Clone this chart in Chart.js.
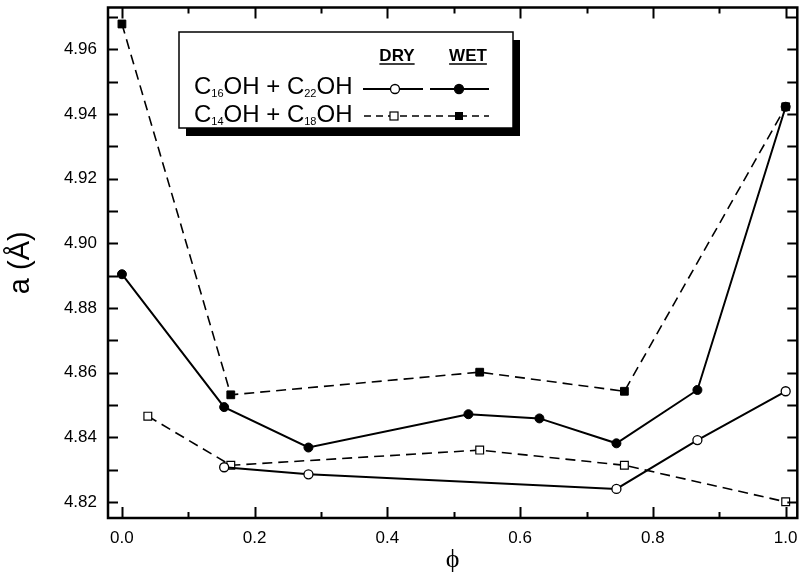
<!DOCTYPE html>
<html><head><meta charset="utf-8">
<script src="https://cdn.jsdelivr.net/npm/chart.js@4.4.1/dist/chart.umd.min.js"></script>
<style>html,body{margin:0;padding:0;background:#fff}#wrap{width:804px;height:576px;position:relative}</style>
</head><body><div id="wrap"><canvas id="c" width="804" height="576"></canvas></div>
<script>
// ---- data (phi, lattice parameter a in Å) ----
const dry16Phi = [0.154, 0.281, 0.745, 0.867, 1.0];
const dry16A   = [4.8307, 4.8285, 4.8240, 4.8391, 4.8542];
const wet16Phi = [0.0, 0.154, 0.281, 0.522, 0.629, 0.745, 0.867, 1.0];
const wet16A   = [4.8904, 4.8493, 4.8368, 4.8471, 4.8458, 4.8381, 4.8546, 4.9422];
const dry14Phi = [0.039, 0.164, 0.539, 0.757, 1.0];
const dry14A   = [4.8465, 4.8313, 4.8360, 4.8313, 4.8200];
const wet14Phi = [0.0, 0.164, 0.539, 0.757, 1.0];
const wet14A   = [4.9678, 4.8531, 4.8601, 4.8542, 4.9422];

const xTickVals = [0.0, 0.2, 0.4, 0.6, 0.8, 1.0];
const yTickVals = [4.82, 4.84, 4.86, 4.88, 4.90, 4.92, 4.94, 4.96];
const xTitle = 'ϕ';
const yTitle = 'a (Å)';

const pts = (xs, ys) => xs.map((x, i) => ({x: x, y: ys[i]}));
const SANS = '"Liberation Sans", Arial, Helvetica, sans-serif';

// inward ticks + frame
const framePlugin = {
  id: 'frame',
  afterDraw(chart) {
    const ctx = chart.ctx, a = chart.chartArea;
    const xs = chart.scales.x, ys = chart.scales.y;
    ctx.save();
    ctx.strokeStyle = '#000';
    ctx.lineWidth = 2;
    ctx.beginPath();
    const xMaj = xTickVals, xMin = [];
    for (let i = 0; i < xMaj.length - 1; i++) xMin.push((xMaj[i] + xMaj[i+1]) / 2);
    const drawX = (v, len) => {
      const p = Math.round(xs.getPixelForValue(v)) + 0.5;
      ctx.moveTo(p, a.bottom); ctx.lineTo(p, a.bottom - len);
      ctx.moveTo(p, a.top); ctx.lineTo(p, a.top + len);
    };
    xMaj.forEach(v => drawX(v, 11));
    xMin.forEach(v => drawX(v, 6));
    const yAll = [];
    const st = (yTickVals[1] - yTickVals[0]) / 2;
    for (let v = yTickVals[0]; v <= ys.max + 1e-9; v += st) yAll.push(v);
    yAll.forEach(v => {
      const p = Math.round(ys.getPixelForValue(v)) + 0.5;
      ctx.moveTo(a.left, p); ctx.lineTo(a.left + 10, p);
      ctx.moveTo(a.right, p); ctx.lineTo(a.right - 10, p);
    });
    ctx.stroke();
    ctx.lineWidth = 2.5;
    ctx.strokeRect(a.left, a.top, a.right - a.left, a.bottom - a.top);
    ctx.restore();

    drawLegend(ctx);
  }
};

function drawSub(ctx, parts, x, y, big, small) {
  let cx = x;
  ctx.textBaseline = 'alphabetic';
  ctx.textAlign = 'left';
  for (const [t, sub] of parts) {
    ctx.font = (sub ? small : big) + 'px ' + SANS;
    ctx.fillText(t, cx, y + (sub ? 3 : 0));
    cx += ctx.measureText(t).width;
  }
  return cx;
}

function drawLegend(ctx) {
  ctx.save();
  const bx = 179, by = 32, bw = 334, bh = 96;
  ctx.fillStyle = '#000';
  ctx.fillRect(bx + 7, by + 8, bw, bh);
  ctx.fillStyle = '#fff';
  ctx.fillRect(bx, by, bw, bh);
  ctx.strokeStyle = '#000';
  ctx.lineWidth = 1.5;
  ctx.strokeRect(bx, by, bw, bh);

  ctx.fillStyle = '#000';
  ctx.font = 'bold 17px ' + SANS;
  ctx.textAlign = 'center';
  ctx.textBaseline = 'alphabetic';
  const heads = [['DRY', 397], ['WET', 468]];
  heads.forEach(([t, cx]) => {
    ctx.fillText(t, cx, 61);
    const w = ctx.measureText(t).width;
    ctx.beginPath();
    ctx.lineWidth = 1.5;
    ctx.moveTo(cx - w / 2, 64); ctx.lineTo(cx + w / 2, 64);
    ctx.stroke();
  });

  drawSub(ctx, [['C',0],['16',1],['OH + C',0],['22',1],['OH',0]], 194, 94, 24, 11);
  drawSub(ctx, [['C',0],['14',1],['OH + C',0],['18',1],['OH',0]], 194, 122, 24, 11);

  ctx.lineWidth = 2;
  ctx.setLineDash([]);
  ctx.beginPath();
  ctx.moveTo(363, 89); ctx.lineTo(423, 89);
  ctx.moveTo(430, 89); ctx.lineTo(489, 89);
  ctx.stroke();
  ctx.lineWidth = 1.3;
  ctx.beginPath(); ctx.arc(395, 89, 4.5, 0, Math.PI * 2);
  ctx.fillStyle = '#fff'; ctx.fill(); ctx.stroke();
  ctx.beginPath(); ctx.arc(459, 89, 4.5, 0, Math.PI * 2);
  ctx.fillStyle = '#000'; ctx.fill(); ctx.stroke();

  ctx.lineWidth = 1.6;
  ctx.setLineDash([7, 5]);
  ctx.beginPath();
  ctx.moveTo(364, 116); ctx.lineTo(489, 116);
  ctx.stroke();
  ctx.setLineDash([]);
  ctx.lineWidth = 1.2;
  ctx.fillStyle = '#fff';
  ctx.fillRect(390, 112, 8, 8); ctx.strokeRect(390, 112, 8, 8);
  ctx.fillStyle = '#000';
  ctx.fillRect(455, 112, 8, 8);
  ctx.restore();
}

const base = {
  borderColor: '#000',
  pointBorderColor: '#000',
  pointHoverRadius: 0,
  tension: 0,
  fill: false
};

new Chart(document.getElementById('c'), {
  type: 'line',
  data: {
    datasets: [
      Object.assign({}, base, {
        label: 'C16OH + C22OH dry', data: pts(dry16Phi, dry16A),
        borderWidth: 2, pointStyle: 'circle', pointRadius: 4.5,
        pointBackgroundColor: '#fff', pointBorderWidth: 1.3
      }),
      Object.assign({}, base, {
        label: 'C16OH + C22OH wet', data: pts(wet16Phi, wet16A),
        borderWidth: 2, pointStyle: 'circle', pointRadius: 4.5,
        pointBackgroundColor: '#000', pointBorderWidth: 1
      }),
      Object.assign({}, base, {
        label: 'C14OH + C18OH dry', data: pts(dry14Phi, dry14A),
        borderWidth: 1.6, borderDash: [10, 6], pointStyle: 'rect', pointRadius: 5.5,
        pointBackgroundColor: '#fff', pointBorderWidth: 1.2
      }),
      Object.assign({}, base, {
        label: 'C14OH + C18OH wet', data: pts(wet14Phi, wet14A),
        borderWidth: 1.6, borderDash: [10, 6], pointStyle: 'rect', pointRadius: 5.5,
        pointBackgroundColor: '#000', pointBorderWidth: 1
      })
    ]
  },
  options: {
    responsive: false,
    animation: false,
    events: [],
    layout: { padding: { left: 0, right: 2, top: 7.5, bottom: 0 } },
    plugins: { legend: { display: false }, tooltip: { enabled: false } },
    scales: {
      x: {
        type: 'linear', min: -0.021, max: 1.0175,
        grid: { display: false, drawTicks: false },
        border: { display: false },
        afterBuildTicks: s => { s.ticks = xTickVals.map(v => ({ value: v })); },
        afterFit: s => { s.height = 58; s.paddingLeft = 0; s.paddingRight = 0; },
        ticks: {
          color: '#000', padding: 10, maxRotation: 0, autoSkip: false,
          font: { family: SANS, size: 17 },
          callback: v => Number(v).toFixed(1)
        },
        title: {
          display: true, text: xTitle, color: '#000',
          font: { family: '"Liberation Serif", "DejaVu Serif", serif', size: 26 },
          padding: { top: 0, bottom: 0 }
        }
      },
      y: {
        type: 'linear', min: 4.815, max: 4.9729,
        grid: { display: false, drawTicks: false },
        border: { display: false },
        afterBuildTicks: s => { s.ticks = yTickVals.map(v => ({ value: v })); },
        afterFit: s => { s.width = 108; s.paddingTop = 0; s.paddingBottom = 0; },
        ticks: {
          color: '#000', padding: 11, autoSkip: false,
          font: { family: SANS, size: 17 },
          callback: v => Number(v).toFixed(2)
        },
        title: {
          display: true, text: yTitle, color: '#000',
          font: { family: SANS, size: 29 },
          padding: { top: 4, bottom: 0 }
        }
      }
    }
  },
  plugins: [framePlugin]
});
</script>
</body></html>
